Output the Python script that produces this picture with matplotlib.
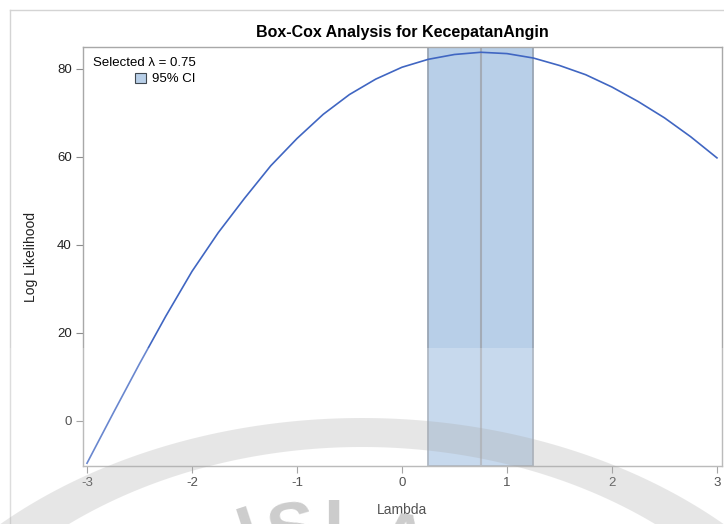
import numpy as np
import matplotlib
matplotlib.use("Agg")
import matplotlib.pyplot as plt
from matplotlib.patches import Patch, Rectangle, PathPatch
from matplotlib.path import Path
from matplotlib.lines import Line2D

plt.rcParams['font.family'] = ['Liberation Sans Narrow', 'Liberation Sans', 'DejaVu Sans']
plt.rcParams['axes.unicode_minus'] = False

# Box-Cox profile log likelihood
lambdas = [-3.0, -2.75, -2.5, -2.25, -2.0, -1.75, -1.5, -1.25, -1.0, -0.75, -0.5, -0.25,
           0.0, 0.25, 0.5, 0.75, 1.0, 1.25, 1.5, 1.75, 2.0, 2.25, 2.5, 2.75, 3.0]
loglik = [-9.6, 1.8, 13.0, 23.8, 34.0, 42.8, 50.6, 58.0, 64.2, 69.7, 74.2, 77.7,
          80.4, 82.2, 83.3, 83.8, 83.5, 82.5, 80.8, 78.7, 75.9, 72.6, 68.9, 64.6, 59.8]
selected = 0.75
ci_low, ci_high = 0.25, 1.25

W, H = 724, 524
fig = plt.figure(figsize=(W / 100, H / 100), dpi=100)
ax = fig.add_axes([83 / W, 1 - 466 / H, (722 - 83) / W, (466 - 47) / H])

ax.axvspan(ci_low, ci_high, facecolor='#b8cfe8', edgecolor='#9aa6b4', linewidth=1.3, zorder=1)
ax.axvline(selected, color='#a3abb6', linewidth=1.5, zorder=2)
ax.plot(lambdas, loglik, color='#4066c2', linewidth=1.2, zorder=3)

ax.set_xlim(-3.038, 3.048)
ax.set_ylim(-10.23, 85.0)
ax.set_xticks([-3, -2, -1, 0, 1, 2, 3])
ax.set_yticks([0, 20, 40, 60, 80])
for s in ax.spines.values():
    s.set_color('#a8a8a8')
    s.set_linewidth(1.0)
ax.tick_params(direction='out', length=5, width=0.8, color='#8c8c8c',
               labelsize=9.5, labelcolor='#222222', pad=3)

ax.set_xlabel('Lambda', fontsize=10, color='#222222', labelpad=10)
ax.set_ylabel('Log Likelihood', fontsize=10, color='#222222', labelpad=14)
ax.set_title('Box-Cox Analysis for KecepatanAngin', fontsize=11.5, fontweight='bold', pad=7)

leg = ax.legend(handles=[Patch(facecolor='#b8cfe8', edgecolor='#404850', linewidth=0.8)],
                labels=['95% CI'], title='Selected \u03bb = 0.75', loc='upper left',
                frameon=False, fontsize=9.5, title_fontsize=9.5, alignment='right',
                handlelength=0.8, handleheight=0.8, handletextpad=0.5,
                borderaxespad=0.5, borderpad=0.25, labelspacing=0.3)

# outer graph frame
fig.add_artist(Line2D([10 / W, 10 / W], [0, 1 - 10 / H], color='#d4d4d4', lw=1.0))
fig.add_artist(Line2D([10 / W, 1], [1 - 10 / H, 1 - 10 / H], color='#d4d4d4', lw=1.0))

# faint watermark: haze, arc and letters
fig.add_artist(Rectangle((0, 0), 1, 1 - 348 / H, transform=fig.transFigure,
                         facecolor='white', alpha=0.22, edgecolor='none', zorder=10))
t = np.linspace(0, np.pi, 240)
cx, cy = 362, 800
outer = np.column_stack([cx + 523 * np.cos(t), cy - 382 * np.sin(t)])
inner = np.column_stack([cx + 470 * np.cos(t[::-1]), cy - 353 * np.sin(t[::-1])])
ring = np.vstack([outer, inner, outer[:1]])
ring = np.column_stack([ring[:, 0] / W, 1 - ring[:, 1] / H])
fig.add_artist(PathPatch(Path(ring, closed=True), transform=fig.transFigure,
                         facecolor='#a8a8a8', edgecolor='none', alpha=0.28, zorder=11))
for ch, x, top, rot in [('I', 250, 500, 18), ('S', 292, 496, 8), ('L', 345, 497, 0), ('A', 402, 508, -8)]:
    fig.text(x / W, 1 - top / H, ch, fontsize=52, fontweight='bold', color='#c4c4c4',
             alpha=0.85, rotation=rot, ha='center', va='top', zorder=12)

fig.savefig('out.png', dpi=100)
